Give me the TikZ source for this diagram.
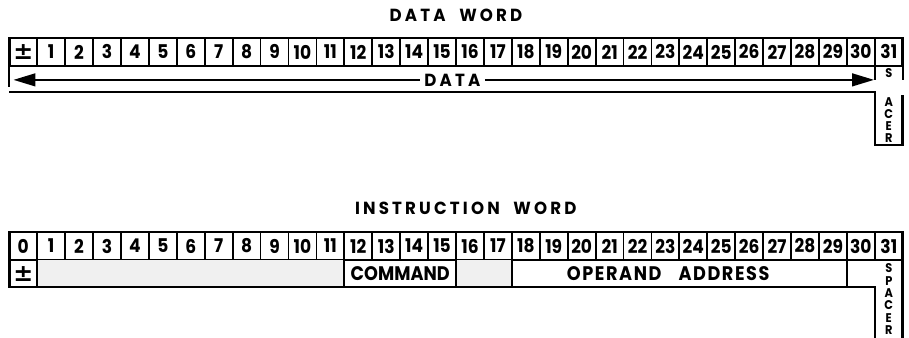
\documentclass[tikz,border=0pt]{standalone}
\usepackage{fontspec}
\setmainfont{Poppins}[FakeStretch=0.9]
\newfontfamily\titleface[LetterSpace=18,FakeStretch=0.95]{Poppins}
\newfontfamily\labelface[LetterSpace=8,FakeStretch=0.9]{Poppins}
\newfontfamily\symface{DejaVu Sans}
\usetikzlibrary{arrows.meta}
\tikzset{
  bit/.style={font=\bfseries\fontsize{13.5}{13.5}\selectfont, inner sep=0pt},
  sign/.style={font=\symface\bfseries\fontsize{17}{17}\selectfont, inner sep=0pt},
  frame/.style={line width=1.8pt},
  rule/.style={line width=1.3pt},
  shade/.style={fill=gray!12},
  spc/.style={font=\bfseries\fontsize{9}{9}\selectfont, inner sep=0pt},
  wtitle/.style={font=\titleface\bfseries\fontsize{12.5}{12.5}\selectfont},
  wlabel/.style={font=\labelface\bfseries\fontsize{14}{14}\selectfont, inner sep=3pt},
  dataarrow/.style={line width=1.4pt, -{Triangle[length=5.5mm,width=3.2mm]}}
}
\newcommand{\bitrow}[3]{%
  \foreach \i in {1,...,31}{%
    \draw[rule] (\i,#2) -- (\i,#2+1);
    \node[bit] (#1\i) at ({\i+0.5},{#2+0.5}) {\i};}
  \node[#3] (#10) at (0.5,{#2+0.5}) {\csname wsym#1\endcsname};
  \draw[frame] (0,#2) rectangle (32,#2+1);}
\newcommand{\wsymd}{±}
\newcommand{\wsymi}{0}

\begin{document}
\begin{tikzpicture}[x=7mm,y=-7mm]
  \useasboundingbox (-0.333,-1.361) rectangle (32.224,10.745);

  % data word
  \node[wtitle] (dtitle) at (16,-0.82) {DATA\hspace{0.4em} WORD};
  \bitrow{d}{0}{sign}
  \draw[rule] (0,1) -- (0,1.75);
  \draw[frame] (0,1.93) -| (31,3.83) -| (32,2.04);
  \draw[rule] (31,1) -- (31,1.5);
  \draw[rule] (32,1) -- (32,1.5);
  \node[wlabel, font=\titleface\bfseries\fontsize{12.5}{12.5}\selectfont] (dlab) at (15.87,1.5) {DATA};
  \coordinate (dleft) at (0.15,1.5);
  \coordinate (dright) at (30.97,1.5);
  \draw[dataarrow] (dlab) -- (dleft);
  \draw[dataarrow] (dlab) -- (dright);
  \node[spc] (ds) at (31.5,1.25) {S};
  \foreach \c [count=\k] in {A,C,E,R}
    \node[spc] (dsp\k) at (31.5,{1.85+0.43*\k}) {\c};

  % instruction word
  \node[wtitle] (ititle) at (16.35,6.09) {INSTRUCTION\hspace{0.4em} WORD};
  \bitrow{i}{6.95}{bit}
  \fill[shade] (1,7.95) rectangle (12,8.92);
  \fill[shade] (16,7.95) rectangle (18,8.92);
  \foreach \x in {1,12,16,18,30}
    \draw[rule] (\x,7.95) -- (\x,8.92);
  \draw[frame] (0,7.95) |- (31,8.92) -- (31,10.745);
  \draw[frame] (32,7.95) -- (32,10.745);
  \node[sign] (isign) at (0.5,8.44) {±};
  \node[wlabel, font=\bfseries\fontsize{14}{14}\selectfont] (icmd) at (14,8.44) {COMMAND};
  \node[wlabel] (iop) at (23.6,8.44) {OPERAND\hspace{0.6em} ADDRESS};
  \foreach \c [count=\k] in {S,P,A,C,E,R}
    \node[spc] (isp\k) at (31.5,{7.8+0.445*\k}) {\c};
\end{tikzpicture}
\end{document}
